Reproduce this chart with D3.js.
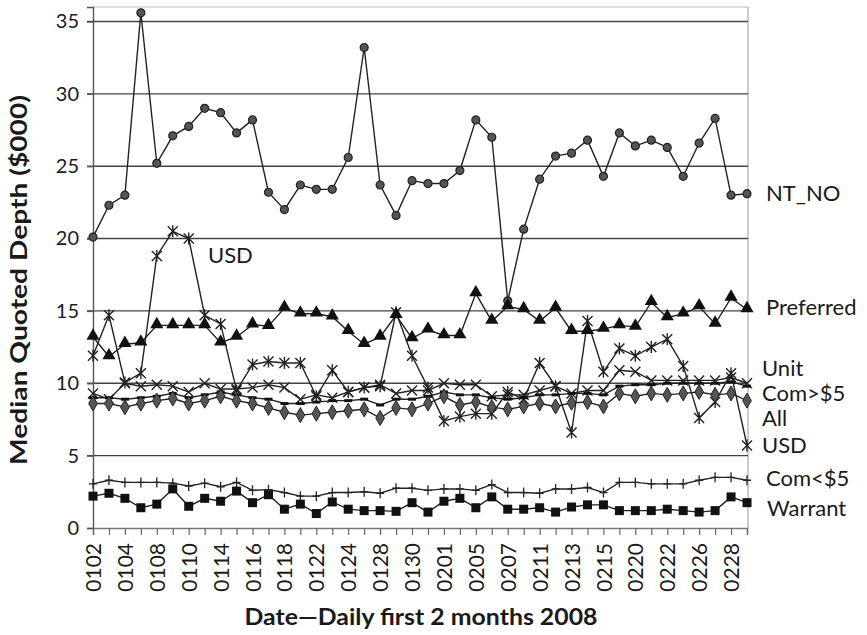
<!DOCTYPE html>
<html><head><meta charset="utf-8">
<script src="https://cdn.jsdelivr.net/npm/d3@7/dist/d3.min.js"></script>
<style>body{margin:0;background:#fff}svg{display:block}text{font-family:Lato,"Open Sans",sans-serif;fill:#1a1a1a}</style>
</head><body><svg id="c" width="867" height="635"></svg>
<script>
const dates=["0102","0103","0104","0107","0108","0109","0110","0111","0114","0115","0116","0117","0118","0121","0122","0123","0124","0125","0128","0129","0130","0131","0201","0204","0205","0206","0207","0208","0211","0212","0213","0214","0215","0219","0220","0221","0222","0225","0226","0227","0228","0229"];
const tickLabels=["0102","0104","0108","0110","0114","0116","0118","0122","0124","0128","0130","0201","0205","0207","0211","0213","0215","0220","0222","0226","0228"];
const yTicks=[0,5,10,15,20,25,30,35];
const ntNo=[20.1,22.3,23.0,35.6,25.2,27.1,27.75,29.0,28.7,27.3,28.2,23.2,22.0,23.7,23.4,23.4,25.6,33.2,23.7,21.6,24.0,23.8,23.8,24.7,28.2,27.0,15.7,20.65,24.1,25.7,25.9,26.8,24.3,27.3,26.4,26.8,26.3,24.3,26.6,28.3,23.0,23.1];
const usd=[11.9,14.7,10.05,10.7,18.8,20.5,20.0,14.7,14.1,9.5,11.3,11.5,11.4,11.4,9.1,10.9,9.4,9.7,9.8,14.9,11.9,9.7,7.4,7.7,7.9,7.9,9.4,8.9,11.4,9.8,6.6,14.3,10.8,12.4,11.9,12.5,13.05,11.2,7.6,8.7,10.7,5.7];
const preferred=[13.2,11.85,12.7,12.8,14.0,14.0,14.0,14.0,12.8,13.2,14.05,13.95,15.2,14.8,14.8,14.6,13.6,12.7,13.2,14.7,13.1,13.7,13.3,13.3,16.2,14.3,15.3,15.1,14.3,15.2,13.6,13.6,13.75,14.0,13.9,15.6,14.55,14.8,15.3,14.1,15.9,15.1];
const unit=[9.3,8.9,10.0,9.8,9.9,9.8,9.4,10.0,9.6,9.6,9.7,9.9,9.7,8.9,9.2,9.0,9.4,9.7,9.9,9.3,9.5,9.5,10.0,9.9,9.9,9.1,9.2,9.2,9.5,9.8,9.3,9.5,9.5,10.9,10.8,10.2,10.2,10.2,10.2,10.2,10.4,10.0];
const comGt5=[9.0,9.0,8.9,9.0,9.1,9.3,9.0,9.2,9.4,9.2,9.0,8.9,8.6,8.6,8.7,8.8,8.8,8.9,8.5,8.9,8.9,9.1,9.4,9.2,9.2,9.0,8.9,9.0,9.2,9.2,9.3,9.3,9.2,9.8,9.9,9.9,10.0,10.0,10.0,10.0,10.1,9.8];
const all=[8.6,8.6,8.35,8.6,8.8,8.95,8.6,8.8,9.1,8.8,8.6,8.3,8.0,7.8,7.9,8.0,8.1,8.2,7.6,8.3,8.2,8.6,9.1,8.5,8.7,8.35,8.2,8.4,8.6,8.4,8.65,8.7,8.4,9.3,9.1,9.3,9.2,9.3,9.4,9.2,9.3,8.8];
const comLt5=[3.05,3.3,3.15,3.15,3.15,3.1,2.9,3.1,2.85,3.15,2.6,2.65,2.45,2.2,2.2,2.45,2.45,2.5,2.4,2.75,2.75,2.6,2.7,2.7,2.6,3.0,2.45,2.45,2.4,2.7,2.7,2.8,2.45,3.15,3.15,3.05,3.05,3.05,3.3,3.5,3.5,3.3];
const warrant=[2.2,2.4,2.05,1.4,1.65,2.7,1.5,2.05,1.85,2.55,1.75,2.3,1.3,1.65,1.0,1.8,1.3,1.2,1.2,1.15,1.75,1.1,1.85,2.05,1.4,2.15,1.3,1.3,1.4,1.1,1.45,1.6,1.6,1.2,1.2,1.2,1.3,1.2,1.1,1.2,2.15,1.75];
const seriesNames=["NT_NO","USD","Preferred","Unit","Com>$5","All","Com<$5","Warrant"];
const markers=["circle","asterisk","triangle","x","dash","diamond","plus","square"];
const seriesValues=[ntNo,usd,preferred,unit,comGt5,all,comLt5,warrant];
const endLabels=[["NT_NO",193,4],["Preferred",307,4],["Unit",368,0],["Com>$5",393,0],["All",418,0],["USD",445,0],["Com<$5",478,4],["Warrant",508,5]];

const svg=d3.select("#c");
const L=93,R=747,T=7,B=528;
const x=d3.scalePoint().domain(dates).range([L,R]).padding(0);
const y=d3.scaleLinear().domain([0,36]).range([B,T]);

// frame
svg.append("line").attr("x1",L).attr("x2",R+1).attr("y1",T).attr("y2",T).attr("stroke","#bbb").attr("stroke-width",1.2);
svg.append("line").attr("x1",R+1).attr("x2",R+1).attr("y1",T).attr("y2",B).attr("stroke","#aaa").attr("stroke-width",1.2);
// grid
svg.append("g").selectAll("line").data(yTicks.filter(d=>d>0)).join("line")
 .attr("x1",L-6).attr("x2",R+1).attr("y1",d=>y(d)).attr("y2",d=>y(d)).attr("stroke","#444").attr("stroke-width",1.4);
// y axis
const ya=svg.append("g").attr("transform",`translate(${L},0)`).call(d3.axisLeft(y).tickValues(yTicks).tickSize(6).tickPadding(8));
ya.select(".domain").attr("stroke","#555").attr("stroke-width",1.4);
ya.selectAll(".tick line").attr("stroke","#555").attr("stroke-width",1.4);
ya.selectAll("text").attr("font-size",20).attr("font-family","Lato").attr("fill","#1a1a1a");
// x axis
const xa=svg.append("g").attr("transform",`translate(0,${B})`).call(d3.axisBottom(x).tickSize(7).tickPadding(8).tickFormat(d=>tickLabels.includes(d)?d:""));
xa.select(".domain").attr("stroke","#777").attr("stroke-width",1.4);
xa.selectAll(".tick line").attr("stroke","#666").attr("stroke-width",1.2);
xa.selectAll("text").attr("font-size",21).attr("font-family","Lato").attr("fill","#1a1a1a")
 .attr("transform","rotate(-90)").attr("text-anchor","end").attr("dy","0.36em").attr("x",-15).attr("y",0);

// lines
const line=d3.line().x((d,i)=>x(dates[i])).y(d=>y(d));
const g=svg.append("g");
seriesValues.forEach((vals,si)=>{
  g.append("path").datum(vals).attr("d",line).attr("fill","none").attr("stroke","#222").attr("stroke-width",1.4);
});
function drawMarker(sel,type){
  const s=5;
  if(type==="circle") sel.append("circle").attr("r",4).attr("fill","#555").attr("stroke","#222").attr("stroke-width",1.2);
  else if(type==="triangle") sel.append("path").attr("d",d3.symbol(d3.symbolTriangle,75)()).attr("fill","#111").attr("transform","translate(0,-1)");
  else if(type==="square") sel.append("rect").attr("x",-4.5).attr("y",-4.5).attr("width",9).attr("height",9).attr("fill","#111");
  else if(type==="diamond") sel.append("path").attr("d",d3.symbol(d3.symbolDiamond,65)()).attr("fill","#555").attr("stroke","#222").attr("stroke-width",1);
  else if(type==="x"||type==="asterisk"){
    sel.append("path").attr("d",`M${-s},${-s}L${s},${s}M${-s},${s}L${s},${-s}`+(type==="asterisk"?`M0,${-s-1}L0,${s+1}`:"")).attr("stroke","#222").attr("stroke-width",1.4).attr("fill","none");
  } else if(type==="plus") sel.append("path").attr("d",`M0,-5L0,5M-4,0L4,0`).attr("stroke","#222").attr("stroke-width",1.3);
  else if(type==="dash") sel.append("path").attr("d",`M-4,0L4,0`).attr("stroke","#111").attr("stroke-width",3);
}
seriesValues.forEach((vals,si)=>{
  const mg=g.append("g");
  vals.forEach((v,i)=>{
    const m=mg.append("g").attr("transform",`translate(${x(dates[i])},${y(v)})`);
    drawMarker(m,markers[si]);
  });
});

// labels
svg.append("g").selectAll("text").data(endLabels).join("text")
 .attr("x",d=>R+15+d[2]).attr("y",d=>d[1]).attr("dy","0.35em").attr("font-size",22).text(d=>d[0]);
svg.append("text").attr("x",208).attr("y",255).attr("dy","0.35em").attr("font-size",22).text("USD");

// axis titles
svg.append("text").attr("transform","translate(27,280) rotate(-90)").attr("text-anchor","middle")
 .attr("font-size",22).attr("font-weight","bold").attr("textLength",370).attr("lengthAdjust","spacingAndGlyphs").text("Median Quoted Depth ($000)");
svg.append("text").attr("x",421).attr("y",617).attr("dy","0.35em").attr("text-anchor","middle")
 .attr("font-size",22).attr("font-weight","bold").attr("textLength",353).attr("lengthAdjust","spacingAndGlyphs").text("Date\u2014Daily first 2 months 2008");
</script></body></html>
